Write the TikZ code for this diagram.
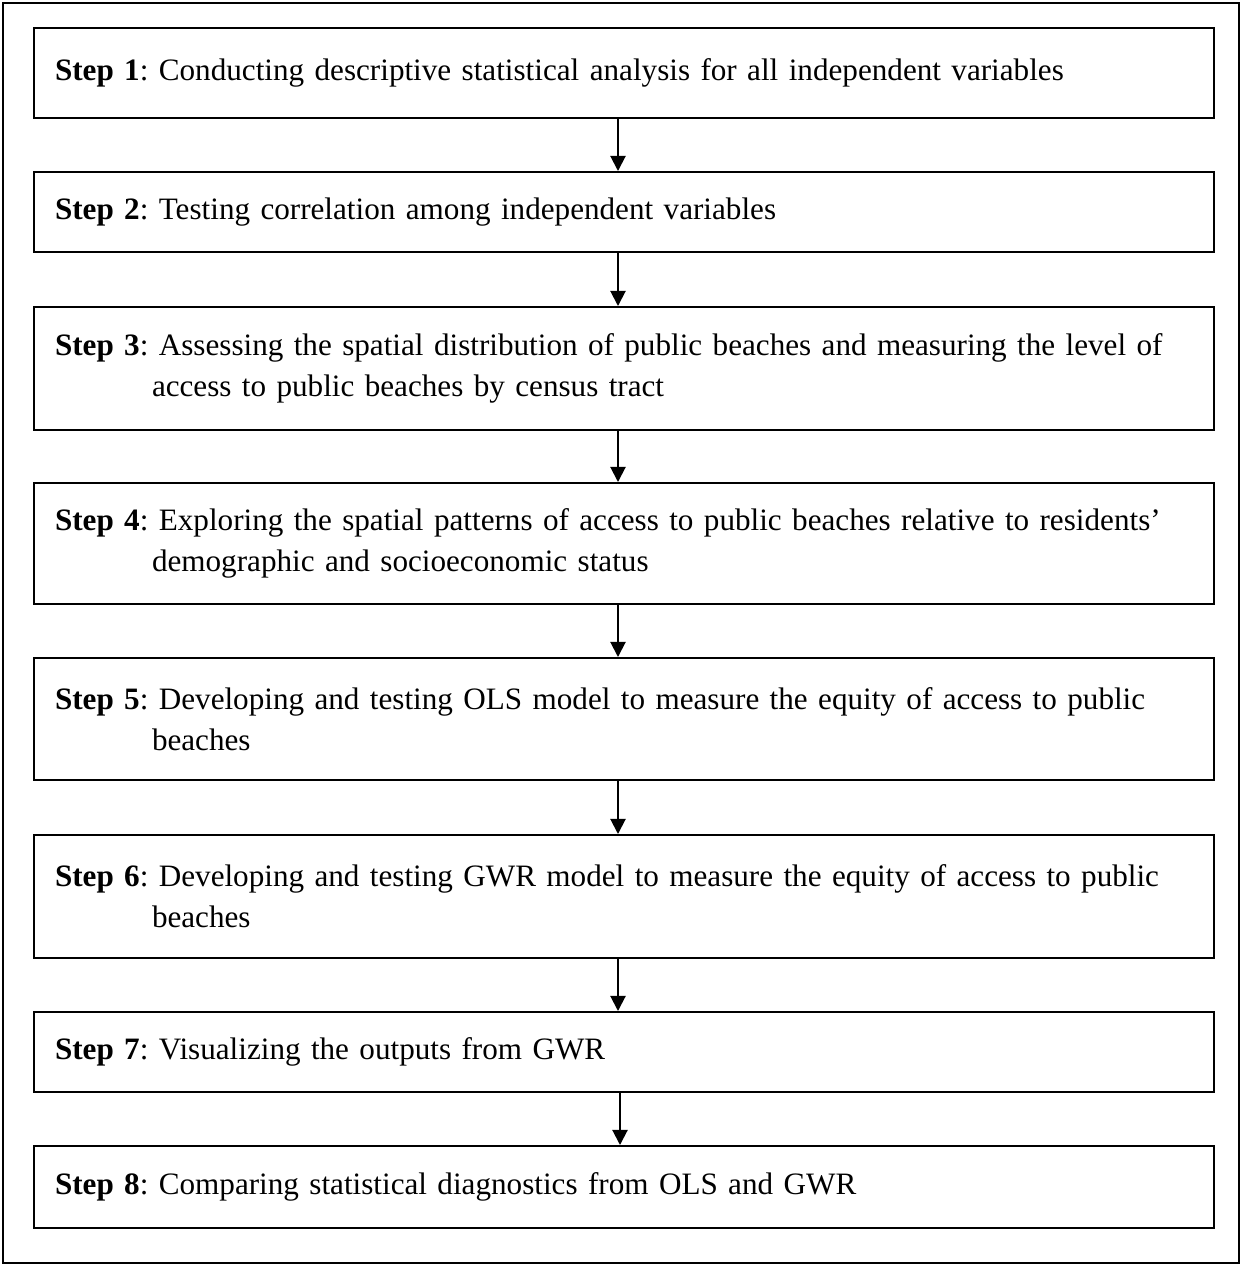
\documentclass[tikz,border=0pt]{standalone}
\usepackage{fontspec}
\setmainfont{Liberation Serif}
\usepackage{tikz}
\usetikzlibrary{arrows.meta,calc}

\newlength\pxl
\setlength\pxl{0.4237pt}
\newcommand\stepfont{\fontsize{13.2}{17.4}\selectfont\frenchspacing}
\newcommand\hangline{\\\hspace*{97\pxl}}

\begin{document}
\begin{tikzpicture}[
  x=\pxl, y=-\pxl,
  stepbox/.style={draw=black, line width=0.85pt, minimum width=1180\pxl,
    text width=1138\pxl, align=left, inner sep=0pt, font=\stepfont},
  arrow/.style={-{Triangle[width=6.4pt,length=6.4pt]}, line width=0.85pt, draw=black}
]
  \useasboundingbox (0,0) rectangle (1242,1266);

  % Outer frame
  \node[draw=black, line width=0.9pt, minimum width=1236\pxl, minimum height=1260\pxl,
    inner sep=0pt] (frame) at (621,633) {};

  % Steps
  \node[stepbox, minimum height=90\pxl] (s1) at (624,73)
    {\textbf{Step 1}: Conducting descriptive statistical analysis for all independent variables};

  \node[stepbox, minimum height=80\pxl] (s2) at (624,212)
    {\textbf{Step 2}: Testing correlation among independent variables};

  \node[stepbox, minimum height=123\pxl] (s3) at (624,368.5)
    {\textbf{Step 3}: Assessing the spatial distribution of public beaches and measuring the level of
     \hangline access to public beaches by census tract};

  \node[stepbox, minimum height=121\pxl] (s4) at (624,543.5)
    {\textbf{Step 4}: Exploring the spatial patterns of access to public beaches relative to residents’
     \hangline demographic and socioeconomic status};

  \node[stepbox, minimum height=122\pxl] (s5) at (624,719)
    {\textbf{Step 5}: Developing and testing OLS model to measure the equity of access to public
     \hangline beaches};

  \node[stepbox, minimum height=123\pxl] (s6) at (624,896.5)
    {\textbf{Step 6}: Developing and testing GWR model to measure the equity of access to public
     \hangline beaches};

  \node[stepbox, minimum height=80\pxl] (s7) at (624,1052)
    {\textbf{Step 7}: Visualizing the outputs from GWR};

  \node[stepbox, minimum height=82\pxl] (s8) at (624,1187)
    {\textbf{Step 8}: Comparing statistical diagnostics from OLS and GWR};

  % Connectors
  \draw[arrow] ($(s1.south)+(-6,0)$) -- ($(s2.north)+(-6,0)$);
  \draw[arrow] ($(s2.south)+(-6,0)$) -- ($(s3.north)+(-6,0)$);
  \draw[arrow] ($(s3.south)+(-6,0)$) -- ($(s4.north)+(-6,0)$);
  \draw[arrow] ($(s4.south)+(-6,0)$) -- ($(s5.north)+(-6,0)$);
  \draw[arrow] ($(s5.south)+(-6,0)$) -- ($(s6.north)+(-6,0)$);
  \draw[arrow] ($(s6.south)+(-6,0)$) -- ($(s7.north)+(-6,0)$);
  \draw[arrow] ($(s7.south)+(-4,0)$) -- ($(s8.north)+(-4,0)$);

\end{tikzpicture}
\end{document}
